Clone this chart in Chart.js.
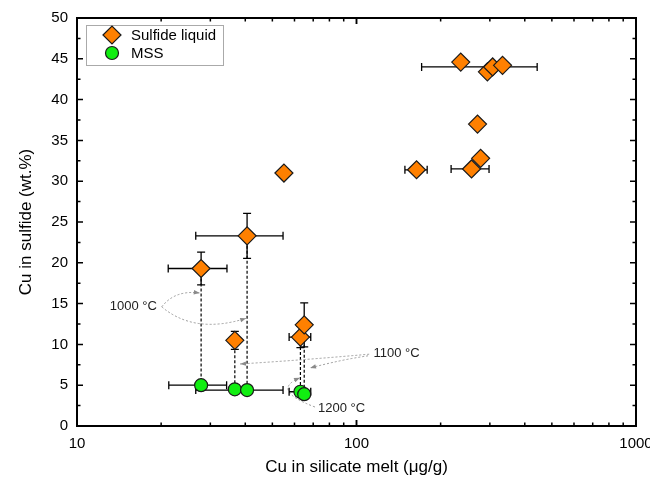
<!DOCTYPE html>
<html>
<head>
<meta charset="utf-8">
<script src="https://cdn.jsdelivr.net/npm/chart.js@4"></script>
<style>
  body { margin: 0; background: #fff; }
</style>
</head>
<body>
<canvas id="chart" width="650" height="479"></canvas>
<script>
// Cu in sulfide vs Cu in silicate melt
const sulfideX = [27.8, 40.6, 36.7, 63, 65, 55, 164, 258, 278, 271, 236, 294, 307, 333];
const sulfideY = [19.3, 23.3, 10.5, 10.9, 12.4, 31.0, 31.4, 31.5, 32.8, 37.0, 44.6, 43.4, 44.0, 44.2];
const sulfideXErr = [6.6, 14, 0, 5.6, 0, 0, 15, 40, 0, 0, 0, 0, 136, 0];
const sulfideYErr = [2.0, 2.75, 1.1, 1.3, 2.7, 0, 0, 0, 0, 0, 0, 0, 0, 0];

const mssX = [27.8, 36.7, 40.6, 63, 65];
const mssY = [5.0, 4.5, 4.4, 4.2, 3.9];
const mssXErr = [6.5, 0, 14, 5.6, 0];

// which sulfide point sits above which MSS point (dashed tie lines)
const linkSulfide = [0, 1, 2, 3, 4];
const linkMss = [0, 2, 1, 3, 4];

const xMajor = [10, 100, 1000];
const yMax = 50;

// temperature notes, in data units
const annoLabels = ['1000 °C', '1100 °C', '1200 °C'];
const annoLabelX = [13.1, 115, 72.8];
const annoLabelY = [14.6, 8.95, 2.1];
// [x0, y0, ctrlX, ctrlY, x1, y1]
const annoCurves = [
  [20.1, 14.6, 22.4, 16.7, 27.5, 16.3],
  [20.1, 14.6, 26.4, 11.2, 40.3, 13.2],
  [111, 8.8, 65.5, 8.1, 38.3, 7.6],
  [110, 8.6, 87.3, 8.1, 68.2, 7.1],
  [71.0, 2.33, 49.0, 4.4, 62.8, 5.9]
];

const FONT = '"Liberation Sans", Arial, sans-serif';
const ORANGE = '#ff8000';
const GREEN = '#11ee11';

function marker(ctx, style, cx, cy, r, fill, stroke) {
  ctx.beginPath();
  if (style === 'rectRot') {
    ctx.moveTo(cx - r, cy);
    ctx.lineTo(cx, cy - r);
    ctx.lineTo(cx + r, cy);
    ctx.lineTo(cx, cy + r);
    ctx.closePath();
  } else {
    ctx.arc(cx, cy, r, 0, Math.PI * 2);
  }
  ctx.fillStyle = fill;
  ctx.fill();
  ctx.lineWidth = 1.2;
  ctx.strokeStyle = stroke;
  ctx.stroke();
}

function errorBars(ctx, sx, sy, xs, ys, xe, ye) {
  const cap = 4;
  xs.forEach((v, i) => {
    const px = sx.getPixelForValue(v);
    const py = sy.getPixelForValue(ys[i]);
    if (xe && xe[i]) {
      const a = sx.getPixelForValue(v - xe[i]);
      const b = sx.getPixelForValue(v + xe[i]);
      ctx.beginPath();
      ctx.moveTo(a, py); ctx.lineTo(b, py);
      ctx.moveTo(a, py - cap); ctx.lineTo(a, py + cap);
      ctx.moveTo(b, py - cap); ctx.lineTo(b, py + cap);
      ctx.stroke();
    }
    if (ye && ye[i]) {
      const a = sy.getPixelForValue(ys[i] - ye[i]);
      const b = sy.getPixelForValue(ys[i] + ye[i]);
      ctx.beginPath();
      ctx.moveTo(px, a); ctx.lineTo(px, b);
      ctx.moveTo(px - cap, a); ctx.lineTo(px + cap, a);
      ctx.moveTo(px - cap, b); ctx.lineTo(px + cap, b);
      ctx.stroke();
    }
  });
}

const framePlugin = {
  id: 'frame',
  beforeDatasetsDraw(chart) {
    const { ctx, scales: { x, y } } = chart;
    ctx.save();

    // tie lines
    ctx.strokeStyle = '#000';
    ctx.lineWidth = 1.2;
    ctx.setLineDash([3, 2]);
    linkSulfide.forEach((si, k) => {
      const px = x.getPixelForValue(sulfideX[si]);
      ctx.beginPath();
      ctx.moveTo(px, y.getPixelForValue(sulfideY[si]));
      ctx.lineTo(px, y.getPixelForValue(mssY[linkMss[k]]));
      ctx.stroke();
    });

    // grey arrows to the temperature notes
    ctx.strokeStyle = '#9a9a9a';
    ctx.fillStyle = '#8a8a8a';
    ctx.lineWidth = 1;
    annoCurves.forEach(c => {
      const x0 = x.getPixelForValue(c[0]), y0 = y.getPixelForValue(c[1]);
      const cx = x.getPixelForValue(c[2]), cy = y.getPixelForValue(c[3]);
      const x1 = x.getPixelForValue(c[4]), y1 = y.getPixelForValue(c[5]);
      ctx.setLineDash([2, 2]);
      ctx.beginPath();
      ctx.moveTo(x0, y0);
      ctx.quadraticCurveTo(cx, cy, x1, y1);
      ctx.stroke();
      ctx.setLineDash([]);
      const ang = Math.atan2(y1 - cy, x1 - cx);
      ctx.beginPath();
      ctx.moveTo(x1, y1);
      ctx.lineTo(x1 - 6 * Math.cos(ang) + 2.2 * Math.sin(ang), y1 - 6 * Math.sin(ang) - 2.2 * Math.cos(ang));
      ctx.lineTo(x1 - 6 * Math.cos(ang) - 2.2 * Math.sin(ang), y1 - 6 * Math.sin(ang) + 2.2 * Math.cos(ang));
      ctx.closePath();
      ctx.fill();
    });

    // error bars
    ctx.setLineDash([]);
    ctx.strokeStyle = '#000';
    ctx.lineWidth = 1.3;
    errorBars(ctx, x, y, sulfideX, sulfideY, sulfideXErr, sulfideYErr);
    errorBars(ctx, x, y, mssX, mssY, mssXErr, null);
    ctx.restore();
  },
  afterDraw(chart) {
    const { ctx, chartArea: ca, scales: { x, y } } = chart;
    ctx.save();

    // minor/major ticks on all four sides, pointing in
    ctx.strokeStyle = '#000';
    ctx.lineWidth = 1.5;
    const tick = (px, len) => {
      ctx.beginPath();
      ctx.moveTo(px, ca.bottom); ctx.lineTo(px, ca.bottom - len);
      ctx.moveTo(px, ca.top); ctx.lineTo(px, ca.top + len);
      ctx.stroke();
    };
    for (let d = 10; d < 1000; d *= 10) {
      for (let m = 1; m <= 10; m++) {
        tick(x.getPixelForValue(d * m), m === 1 || m === 10 ? 6 : 3.5);
      }
    }
    for (let v = 0; v <= yMax; v += 2.5) {
      const py = y.getPixelForValue(v);
      const len = v % 5 === 0 ? 6 : 3.5;
      ctx.beginPath();
      ctx.moveTo(ca.left, py); ctx.lineTo(ca.left + len, py);
      ctx.moveTo(ca.right, py); ctx.lineTo(ca.right - len, py);
      ctx.stroke();
    }
    ctx.lineWidth = 2;
    ctx.strokeRect(ca.left, ca.top, ca.right - ca.left, ca.bottom - ca.top);

    // temperature notes
    ctx.fillStyle = '#222';
    ctx.font = '13px ' + FONT;
    ctx.textBaseline = 'middle';
    ctx.textAlign = 'left';
    annoLabels.forEach((t, i) => {
      ctx.fillText(t, x.getPixelForValue(annoLabelX[i]), y.getPixelForValue(annoLabelY[i]));
    });

    // legend
    const lx = ca.left + 9, ly = ca.top + 7;
    ctx.fillStyle = '#fff';
    ctx.fillRect(lx, ly, 137, 40);
    ctx.strokeStyle = '#aaa';
    ctx.lineWidth = 1;
    ctx.strokeRect(lx + 0.5, ly + 0.5, 137, 40);
    ctx.font = '15px ' + FONT;
    chart.data.datasets.forEach((ds, i) => {
      const cy = ly + 10 + i * 18;
      marker(ctx, ds.pointStyle, lx + 26, cy, ds.pointRadius, ds.backgroundColor, ds.borderColor);
      ctx.fillStyle = '#000';
      ctx.fillText(ds.label, lx + 45, cy + 1);
    });
    ctx.restore();
  }
};

const toPts = (xs, ys) => xs.map((v, i) => ({ x: v, y: ys[i] }));

new Chart(document.getElementById('chart').getContext('2d'), {
  type: 'scatter',
  data: {
    datasets: [
      {
        label: 'Sulfide liquid',
        data: toPts(sulfideX, sulfideY),
        pointStyle: 'rectRot',
        pointRadius: 9,
        backgroundColor: ORANGE,
        borderColor: '#1a1a1a',
        borderWidth: 1.2
      },
      {
        label: 'MSS',
        data: toPts(mssX, mssY),
        pointStyle: 'circle',
        pointRadius: 6.5,
        backgroundColor: GREEN,
        borderColor: '#1a1a1a',
        borderWidth: 1.2
      }
    ]
  },
  options: {
    responsive: false,
    animation: false,
    layout: { padding: { top: 18, right: 14, left: 0, bottom: 0 } },
    plugins: {
      legend: { display: false },
      tooltip: { enabled: false }
    },
    scales: {
      x: {
        type: 'logarithmic',
        min: 10,
        max: 1000,
        afterBuildTicks: s => { s.ticks = xMajor.map(v => ({ value: v })); },
        ticks: {
          color: '#000',
          font: { size: 15, family: FONT },
          padding: 9,
          maxRotation: 0,
          autoSkip: false,
          callback: v => String(v)
        },
        grid: { display: false, drawTicks: false },
        border: { display: false },
        title: {
          display: true,
          text: 'Cu in silicate melt (μg/g)',
          color: '#000',
          font: { size: 17, family: FONT },
          padding: { top: 0, bottom: 1 }
        },
        afterFit: s => { s.height = 53; s.paddingLeft = 0; s.paddingRight = 0; }
      },
      y: {
        min: 0,
        max: yMax,
        ticks: {
          stepSize: 5,
          color: '#000',
          font: { size: 15, family: FONT },
          padding: 9
        },
        grid: { display: false, drawTicks: false },
        border: { display: false },
        title: {
          display: true,
          text: 'Cu in sulfide (wt.%)',
          color: '#000',
          font: { size: 17, family: FONT },
          padding: { top: 16, bottom: 0 }
        },
        afterFit: s => { s.width = 77; s.paddingTop = 0; s.paddingBottom = 0; }
      }
    }
  },
  plugins: [framePlugin]
});
</script>
</body>
</html>
